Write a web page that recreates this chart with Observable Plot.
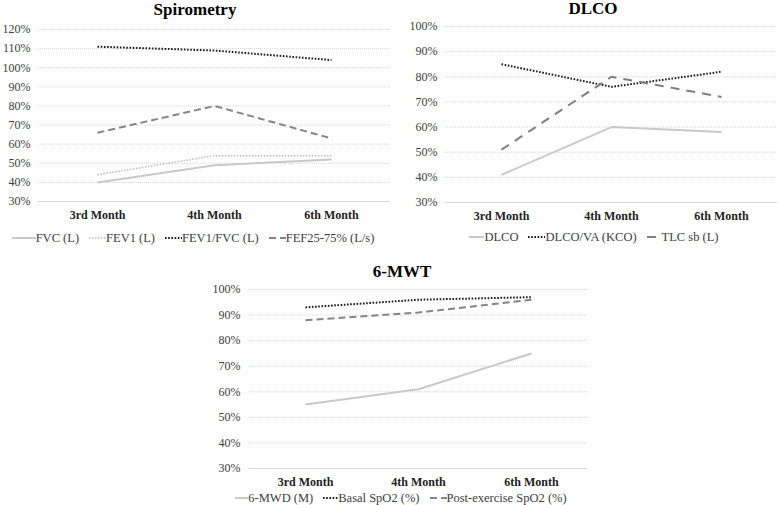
<!DOCTYPE html>
<html>
<head>
<meta charset="utf-8">
<script src="https://cdn.jsdelivr.net/npm/d3@7"></script>
<script src="https://cdn.jsdelivr.net/npm/@observablehq/plot@0.6"></script>
<style>
  body { margin: 0; background: #fff; }
  #chart { position: relative; width: 778px; height: 505px; font-family: "Liberation Serif", "Times New Roman", serif; color: #404040; }
  .title { position: absolute; width: 240px; text-align: center; font-size: 17px; font-weight: bold; line-height: 18px; color: #000; }
  .legend { position: absolute; display: flex; justify-content: center; align-items: center; font-size: 12.5px; line-height: 14px; white-space: nowrap; color: #404040; }
  .legend .item { display: flex; align-items: center; margin: 0 5px; }
  .legend svg { display: block; }
  .panel { position: absolute; }
  .panel svg text { font-family: "Liberation Serif", "Times New Roman", serif; }
</style>
</head>
<body>
<div id="chart"></div>
<script>
// ---- data ----
const months = ["3rd Month", "4th Month", "6th Month"];
const yTicks = [30, 40, 50, 60, 70, 80, 90, 100, 110, 120];

const spiroSeries = ["FVC (L)", "FEV1 (L)", "FEV1/FVC (L)", "FEF25-75% (L/s)"];
const fvc = [40, 49, 52];
const fev1 = [44, 54, 54];
const fev1Fvc = [111, 109, 104];
const fef2575 = [66, 80, 63];

const dlcoSeries = ["DLCO", "DLCO/VA (KCO)", "TLC sb (L)"];
const dlco = [41, 60, 58];
const dlcoVa = [85, 76, 82];
const tlcSb = [51, 80, 72];

const mwtSeries = ["6-MWD (M)", "Basal SpO2 (%)", "Post-exercise SpO2 (%)"];
const mwd = [55, 61, 75];
const basalSpo2 = [93, 96, 97];
const postSpo2 = [88, 91, 96];

// ---- styles ----
const solidLight = {stroke: "#c9c9c9", strokeWidth: 2, dash: null};
const dottedLight = {stroke: "#bdbdbd", strokeWidth: 1.5, dash: "1.5,1.5"};
const dottedBlack = {stroke: "#1a1a1a", strokeWidth: 2, dash: "1.6,1.6"};
const dashedGray = {stroke: "#858585", strokeWidth: 2, dash: "7,4"};
const longDashGray = {stroke: "#7f7f7f", strokeWidth: 2, dash: "9,7"};

const chart = document.getElementById("chart");

function toRows(names, arrays) {
  const rows = [];
  names.forEach((n, i) => arrays[i].forEach((v, j) => rows.push({series: n, month: months[j], value: v})));
  return rows;
}

function panel({left, top, width, height, mL, mR, mT, mB, yMax, names, arrays, styles}) {
  const rows = toRows(names, arrays);
  const ticks = yTicks.filter(t => t <= yMax);
  const marks = [
    Plot.gridY(ticks.filter(t => t > 30), {stroke: "#d6d6d6", strokeOpacity: 1, strokeDasharray: "1,1"}),
    Plot.ruleY([30], {stroke: "#d9d9d9", strokeWidth: 1}),
    Plot.axisY(ticks, {tickSize: 0, tickPadding: 8, tickFormat: d => d + "%", fontSize: 12, fill: "#404040"}),
    Plot.axisX({tickSize: 0, tickPadding: 9, fontSize: 12, fontWeight: "bold", fill: "#222"})
  ];
  names.forEach((n, i) => {
    const s = styles[i];
    marks.push(Plot.line(rows.filter(r => r.series === n), {
      x: "month", y: "value", stroke: s.stroke, strokeWidth: s.strokeWidth,
      strokeDasharray: s.dash || undefined, strokeLinecap: "butt"
    }));
  });
  const svg = Plot.plot({
    width, height,
    marginLeft: mL, marginRight: mR, marginTop: mT, marginBottom: mB,
    x: {type: "point", domain: months, padding: 0.5, label: null},
    y: {domain: [30, yMax], label: null},
    style: {fontFamily: "'Liberation Serif', 'Times New Roman', serif", background: "transparent", overflow: "visible"},
    marks
  });
  const wrap = document.createElement("div");
  wrap.className = "panel";
  wrap.style.left = left + "px";
  wrap.style.top = top + "px";
  wrap.appendChild(svg);
  chart.appendChild(wrap);
}

function title(text, cx, top) {
  const d = document.createElement("div");
  d.className = "title";
  d.textContent = text;
  d.style.left = (cx - 120) + "px";
  d.style.top = top + "px";
  chart.appendChild(d);
}

function legend(names, styles, cx, top, swatchW) {
  const d = document.createElement("div");
  d.className = "legend";
  d.style.left = (cx - 250) + "px";
  d.style.width = "500px";
  d.style.top = top + "px";
  names.forEach((n, i) => {
    const s = styles[i];
    const it = document.createElement("div");
    it.className = "item";
    const w = swatchW[i];
    it.innerHTML = `<svg width="${w}" height="10"><line x1="0" x2="${w}" y1="5" y2="5" stroke="${s.stroke}" stroke-width="${s.strokeWidth}" ${s.dash ? `stroke-dasharray="${s.dash}"` : ""}/></svg><span>${n}</span>`;
    d.appendChild(it);
  });
  chart.appendChild(d);
}

// Spirometry
title("Spirometry", 195, 1);
panel({left: 0, top: 0, width: 390, height: 222, mL: 38, mR: 0, mT: 29, mB: 21, yMax: 120,
  names: spiroSeries, arrays: [fvc, fev1, fev1Fvc, fef2575],
  styles: [solidLight, dottedLight, dottedBlack, dashedGray]});
legend(spiroSeries, [solidLight, dottedLight, dottedBlack, dashedGray], 193, 231, [24, 17, 17, 17]);

// DLCO
title("DLCO", 593, 0);
panel({left: 390, top: 0, width: 388, height: 222, mL: 55, mR: 1, mT: 26, mB: 20, yMax: 100,
  names: dlcoSeries, arrays: [dlco, dlcoVa, tlcSb],
  styles: [solidLight, dottedBlack, longDashGray]});
legend(dlcoSeries, [solidLight, dottedBlack, longDashGray], 594, 230, [15, 17, 15]);

// 6-MWT
title("6-MWT", 402, 263);
panel({left: 190, top: 245, width: 400, height: 245, mL: 58, mR: 3, mT: 44, mB: 22, yMax: 100,
  names: mwtSeries, arrays: [mwd, basalSpo2, postSpo2],
  styles: [solidLight, dottedBlack, dashedGray]});
legend(mwtSeries, [solidLight, dottedBlack, dashedGray], 401, 491, [13, 15, 17]);
</script>
</body>
</html>
